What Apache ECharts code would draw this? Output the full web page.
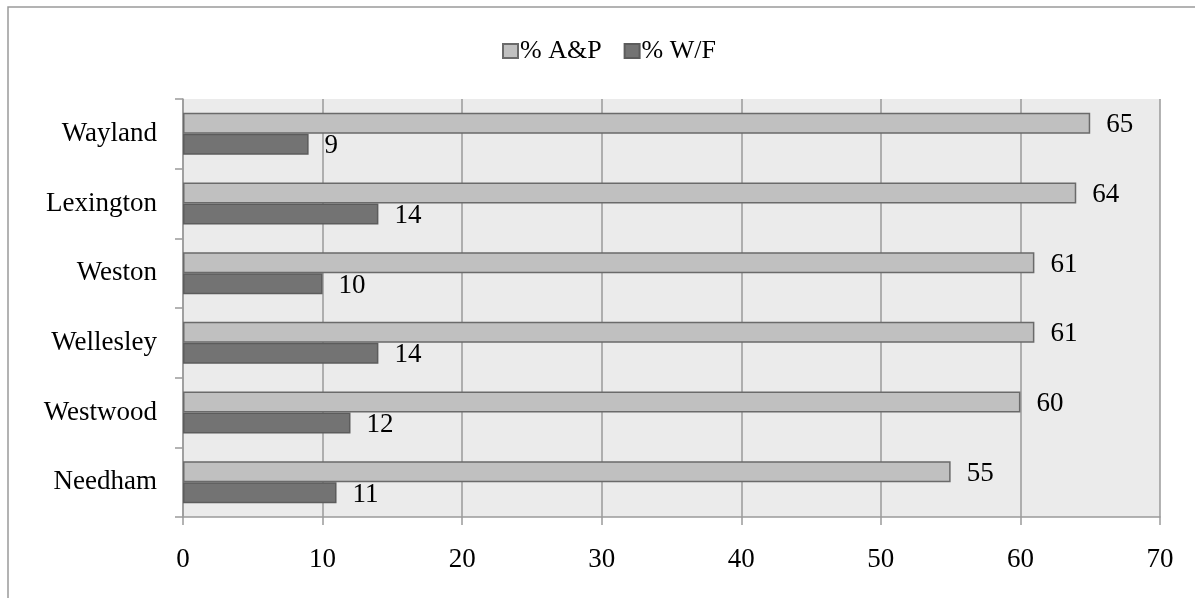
<!DOCTYPE html>
<html>
<head>
<meta charset="utf-8">
<script src="https://cdn.jsdelivr.net/npm/echarts@6/dist/echarts.min.js"></script>
<style>
  html, body { margin: 0; padding: 0; background: #ffffff; }
  #chart { width: 1195px; height: 598px; }
</style>
</head>
<body>
<div id="chart"></div>
<script>
// Towns, listed top to bottom
const towns = ['Wayland', 'Lexington', 'Weston', 'Wellesley', 'Westwood', 'Needham'];
// Percent A&P per town
const pctAP = [65, 64, 61, 61, 60, 55];
// Percent W/F per town
const pctWF = [9, 14, 10, 14, 12, 11];
// Value axis range and step
const axisMin = 0;
const axisMax = 70;
const axisStep = 10;

const FONT = 'Liberation Serif';
const chart = echarts.init(document.getElementById('chart'), null, { renderer: 'canvas' });

const labelStyle = {
  show: true,
  position: 'right',
  distance: 16,
  fontFamily: FONT,
  fontSize: 27,
  color: '#000000',
  offset: [0, 2]
};

chart.setOption({
  animation: false,
  backgroundColor: '#ffffff',
  graphic: [{
    type: 'rect',
    shape: { x: 8, y: 7, width: 1220, height: 620 },
    style: { fill: 'none', stroke: '#9a9a9a', lineWidth: 1.5 },
    silent: true,
    z: -10
  }],
  legend: {
    left: 497,
    top: 33,
    icon: 'rect',
    itemWidth: 15,
    itemHeight: 14,
    itemGap: 22,
    textStyle: { fontFamily: FONT, fontSize: 26, color: '#000000', padding: [0, 0, 0, -3] },
    data: ['% A&P', '% W/F']
  },
  grid: {
    left: 183,
    right: 35,
    top: 99,
    height: 418,
    show: true,
    backgroundColor: '#EBEBEB',
    borderWidth: 0
  },
  xAxis: {
    type: 'value',
    min: axisMin,
    max: axisMax,
    interval: axisStep,
    axisLine: { show: true, lineStyle: { color: '#9a9a9a', width: 1.5 } },
    axisTick: { show: true, length: 8, lineStyle: { color: '#9a9a9a', width: 1.5 } },
    splitLine: { show: true, lineStyle: { color: '#9a9a9a', width: 1.5 } },
    axisLabel: { fontFamily: FONT, fontSize: 27, color: '#000000', margin: 29 }
  },
  yAxis: {
    type: 'category',
    data: towns,
    inverse: true,
    axisLine: { show: true, lineStyle: { color: '#9a9a9a', width: 1.5 } },
    axisTick: { show: true, length: 8, lineStyle: { color: '#9a9a9a', width: 1.5 } },
    splitLine: { show: false },
    axisLabel: { fontFamily: FONT, fontSize: 27, color: '#000000', margin: 26 }
  },
  series: [
    {
      name: '% A&P',
      type: 'bar',
      data: pctAP,
      barWidth: 21,
      barGap: '0%',
      itemStyle: { color: '#C0C0C0', borderColor: '#6a6a6a', borderWidth: 1.5 },
      label: labelStyle
    },
    {
      name: '% W/F',
      type: 'bar',
      data: pctWF,
      barWidth: 21,
      barGap: '0%',
      itemStyle: { color: '#737373', borderColor: '#5c5c5c', borderWidth: 1.5 },
      label: labelStyle
    }
  ]
});
</script>
</body>
</html>
